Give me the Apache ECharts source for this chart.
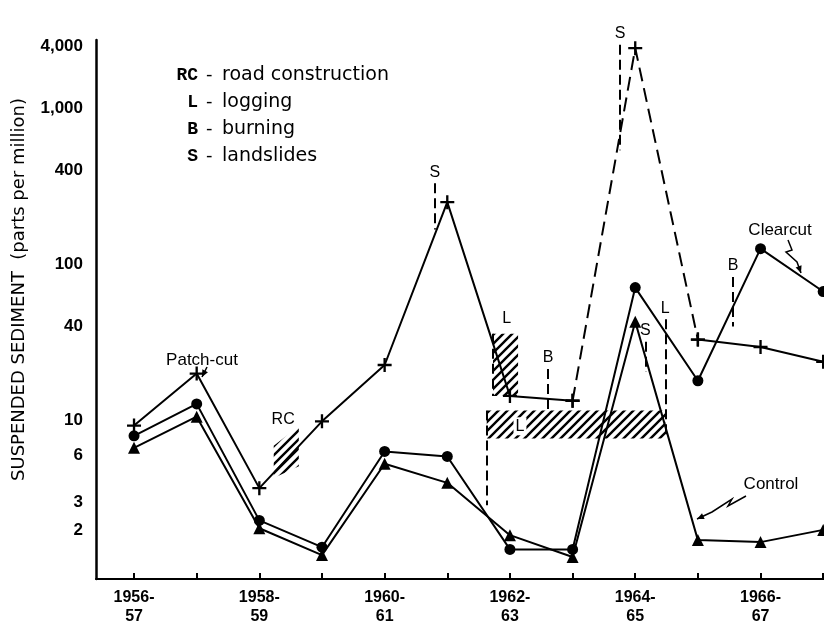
<!DOCTYPE html>
<html><head><meta charset="utf-8">
<script src="https://cdn.jsdelivr.net/npm/echarts@6/dist/echarts.min.js"></script>
<style>html,body{margin:0;padding:0;background:#fff}#c{width:824px;height:626px}</style>
</head><body><div id="c"></div>
<script>
// ---- data ----
const waterYears = [1956,1957,1958,1959,1960,1961,1962,1963,1964,1965,1966,1967];
const patchCut  = [9.3, 20, 3.7, 9.9, 22.7, 250, 14.4, 13.4, 3900, 33, 29.6, 23.8];
const clearcut  = [8.0, 12.8, 2.3, 1.55, 6.35, 5.9, 1.5, 1.5, 71, 18, 126, 67];
const control   = [6.7, 10.6, 2.05, 1.38, 5.3, 4.0, 1.85, 1.34, 43, 1.72, 1.67, 2.0];
const yTickValues = [2, 3, 6, 10, 40, 100, 400, 1000, 4000];
const xLabelYears = [1956, 1958, 1960, 1962, 1964, 1966];
const legendCodes = ['RC', 'L', 'B', 'S'];
const legendTexts = ['road construction', 'logging', 'burning', 'landslides'];

const toPts = arr => waterYears.map((y, i) => [y, arr[i]]);
// patch-cut: solid except the 1963-65 excursion, which is dashed
const dashIdx = [7, 8, 9];
const patchSolid = waterYears.map((y, i) => [y, i === 8 ? null : patchCut[i]]);
const patchDash = waterYears.map((y, i) => [y, dashIdx.includes(i) ? patchCut[i] : null]);

function hatch(sp, lw) {
  const c = document.createElement('canvas'); c.width = c.height = sp;
  const g = c.getContext('2d'); g.strokeStyle = '#000'; g.lineWidth = lw;
  g.beginPath();
  g.moveTo(-1, sp + 1); g.lineTo(sp + 1, -1);
  g.moveTo(-2, 2); g.lineTo(2, -2);
  g.moveTo(sp - 2, sp + 2); g.lineTo(sp + 2, sp - 2);
  g.stroke();
  return { image: c, repeat: 'repeat' };
}
const pat = hatch(9, 2.4);

const hatchShapes = [
  [[1958.23, 6.9], [1958.63, 9.2], [1958.63, 5.1], [1958.23, 4.3]],
  [[1961.73, 36], [1962.13, 36], [1962.13, 14.4], [1961.73, 14.4]],
  [[1961.63, 11.6], [1964.48, 11.6], [1964.48, 7.7], [1961.63, 7.7]]
];
const notes = [
  { t: 'RC', p: [1958.38, 10.2] },
  { t: 'L', p: [1961.95, 45] },
  { t: 'L', p: [1962.16, 9.2], bg: true }
];

const plusPath = 'path://M-1,-6H1V-1H6V1H1V6H-1V1H-6V-1H-1Z';
const black = '#000';
const F = '"Liberation Sans", Arial, sans-serif';
const FD = '"DejaVu Sans", sans-serif';

function vline(x, y1, y2, text) {
  return [{ coord: [x, y1], label: text ? { show: true, formatter: text } : { show: false } }, { coord: [x, y2] }];
}

const chart = echarts.init(document.getElementById('c'));
const option = {
  animation: false,
  backgroundColor: '#fff',
  grid: { left: 96, right: 0, top: 40, bottom: 45, containLabel: false },
  xAxis: {
    type: 'value', min: 1955.393, max: 1967.013,
    axisLine: { show: true, lineStyle: { color: black, width: 2 } },
    axisTick: { show: true, inside: true, length: 6, customValues: waterYears, lineStyle: { color: black, width: 2 } },
    axisLabel: {
      customValues: xLabelYears, color: black, fontFamily: F, fontWeight: 'bold', fontSize: 16, lineHeight: 19, margin: 9,
      formatter: v => v + '-\n' + String((v + 1) % 100)
    },
    splitLine: { show: false }
  },
  yAxis: [{
    type: 'log', logBase: 10, min: 0.97, max: 4400,
    breaks: [{ start: 1300, end: 3000, gap: '4.5%' }],
    breakArea: { show: false },
    name: 'SUSPENDED SEDIMENT  (parts per million)',
    nameLocation: 'middle', nameGap: 68,
    nameTextStyle: { fontFamily: FD, fontSize: 18, color: black, padding: [0, 0, 0, 40] },
    axisLine: { show: false },
    axisTick: { show: false },
    axisLabel: {
      customValues: yTickValues, color: black, fontFamily: F, fontWeight: 'bold', fontSize: 17, margin: 13,
      formatter: v => Number(v).toLocaleString('en-US')
    },
    splitLine: { show: false }
  }, {
    // plain axis used only to draw the continuous vertical axis line
    type: 'value', min: 0, max: 1, position: 'left',
    axisLine: { show: true, lineStyle: { color: black, width: 2.5 } },
    axisTick: { show: false }, axisLabel: { show: false }, splitLine: { show: false }
  }],
  series: [
    {
      name: 'Patch-cut', type: 'line', data: patchSolid, connectNulls: false,
      symbol: plusPath, symbolSize: 14, itemStyle: { color: black },
      lineStyle: { color: black, width: 2 }, z: 3
    },
    {
      name: 'Patch-cut dashed', type: 'line', data: patchDash, connectNulls: false,
      symbol: plusPath, symbolSize: 14, itemStyle: { color: black },
      lineStyle: { color: black, width: 2, type: [14, 7] }, z: 3
    },
    {
      name: 'Clearcut', type: 'line', data: toPts(clearcut),
      symbol: 'circle', symbolSize: 11, itemStyle: { color: black },
      lineStyle: { color: black, width: 2 }, z: 3
    },
    {
      name: 'Control', type: 'line', data: toPts(control),
      symbol: 'triangle', symbolSize: 12, itemStyle: { color: black },
      lineStyle: { color: black, width: 2 }, z: 3
    },
    {
      name: 'hatch', type: 'custom', z: 2, clip: false,
      data: hatchShapes.map(s => s[0]),
      renderItem: (params, api) => {
        const pts = hatchShapes[params.dataIndex].map(p => api.coord(p));
        return { type: 'polygon', shape: { points: pts }, style: { fill: pat, stroke: null } };
      }
    },
    {
      name: 'notes', type: 'custom', z: 4, clip: false,
      data: notes.map(n => n.p),
      renderItem: (params, api) => {
        const n = notes[params.dataIndex];
        const p = api.coord(n.p);
        return {
          type: 'text', x: p[0], y: p[1],
          style: {
            text: n.t, fontFamily: F, fontSize: 16, fill: black, align: 'center', verticalAlign: 'middle',
            backgroundColor: n.bg ? '#fff' : null, padding: n.bg ? [1, 2] : 0
          }
        };
      }
    },
    {
      name: 'events', type: 'line', data: [], z: 2,
      markLine: {
        silent: true, symbol: ['none', 'none'],
        lineStyle: { color: black, width: 2, type: [10, 5] },
        label: { position: 'start', color: black, fontFamily: F, fontSize: 16, distance: 3 },
        data: [
          vline(1960.80, 330, 167, 'S'),
          vline(1963.76, 4100, 537, 'S'),
          vline(1964.16, 32, 20.5, 'S'),
          vline(1962.61, 21.4, 11.1, 'B'),
          vline(1965.56, 83, 40, 'B'),
          vline(1964.48, 44.6, 8.0, 'L'),
          vline(1961.63, 11.6, 2.88, null),
          vline(1961.73, 36, 14.4, null)
        ]
      }
    }
  ]
};
chart.setOption(option);

// ---- text annotations & pointer arrows ----
function head(tip, from, s) {
  const dx = tip[0] - from[0], dy = tip[1] - from[1], L = Math.hypot(dx, dy);
  const ux = dx / L, uy = dy / L;
  return [tip, [tip[0] - ux * s - uy * s * 0.45, tip[1] - uy * s + ux * s * 0.45],
               [tip[0] - ux * s + uy * s * 0.45, tip[1] - uy * s - ux * s * 0.45]];
}
const g = [];
legendCodes.forEach((c, i) => {
  const y = 75 + i * 27;
  g.push({ type: 'text', x: 198, y, style: { text: c, font: 'bold 18px "Liberation Mono", monospace', fill: black, align: 'right', verticalAlign: 'middle' } });
  g.push({ type: 'text', x: 206, y, style: { text: '-', font: '18px ' + FD, fill: black, align: 'left', verticalAlign: 'middle' } });
  g.push({ type: 'text', x: 222, y, style: { text: legendTexts[i], font: '19px ' + FD, fill: black, align: 'left', verticalAlign: 'middle' } });
});
const labels = [
  { t: 'Patch-cut', x: 202, y: 360, arrow: [[207, 367], [202, 377]] },
  { t: 'Clearcut', x: 780, y: 230, arrow: [[788, 240], [792, 250], [786, 252], [797, 262], [801, 273]] },
  { t: 'Control', x: 771, y: 484, arrow: [[746, 496], [728, 506], [732, 499], [712, 512], [697, 519]] }
];
labels.forEach(l => {
  g.push({ type: 'text', x: l.x, y: l.y, style: { text: l.t, font: '17px ' + F, fill: black, align: 'center', verticalAlign: 'middle' } });
  g.push({ type: 'polyline', shape: { points: l.arrow }, style: { stroke: black, lineWidth: 1.5, fill: null } });
  const a = l.arrow;
  g.push({ type: 'polygon', shape: { points: head(a[a.length - 1], a[a.length - 2], 7) }, style: { fill: black } });
});
chart.setOption({ graphic: g });
</script>
</body></html>
